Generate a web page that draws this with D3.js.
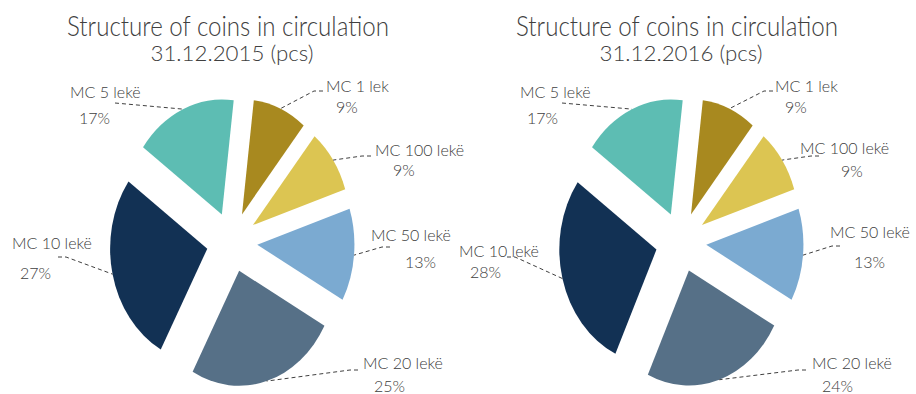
<!DOCTYPE html>
<html>
<head>
<meta charset="utf-8">
<script src="https://cdn.jsdelivr.net/npm/d3@7"></script>
<style>
  html, body { margin: 0; padding: 0; background: #fff; }
  svg { display: block; }
  text { font-family: Lato, "Open Sans", sans-serif; font-weight: 300; fill: #404040; }
</style>
</head>
<body>
<svg id="chart" width="916" height="394"></svg>
<script>
// Coin denominations, in the order they are laid around the pie (clockwise)
const categories = ["MC 1 lek", "MC 100 lekë", "MC 50 lekë", "MC 20 lekë", "MC 10 lekë", "MC 5 lekë"];
// Share of pieces in circulation, %
const values2015 = [9, 9, 13, 25, 27, 17];
const values2016 = [9, 9, 13, 24, 28, 17];
const titleLine1 = "Structure of coins in circulation";
const subtitles = ["31.12.2015 (pcs)", "31.12.2016 (pcs)"];

const colors = ["#A8891F", "#DCC552", "#7BAAD1", "#567087", "#123154", "#5DBDB3"];

// Layout of each pie panel and its hand-placed labels
// name: [x, baseline], pct: [x, baseline], lead: leader start [x, y] (+ optional elbow)
const panels = [
  {
    values: values2015, subtitle: subtitles[0], cx: 232, cy: 242,
    labels: [
      { name: [326, 92], pct: [336, 113], lead: [[323, 91], [314, 91]] },
      { name: [375, 156], pct: [393, 176], lead: [[371, 156], [362, 156]] },
      { name: [371, 241], pct: [405, 268], lead: [[390, 247], [382, 247]] },
      { name: [363, 369], pct: [374, 392], lead: [[358, 370], [350, 370]] },
      { name: [12, 249], pct: [20, 279], lead: [[58, 257], [66, 257]] },
      { name: [70, 98], pct: [79, 124], lead: [[115, 103]] }
    ]
  },
  {
    values: values2016, subtitle: subtitles[1], cx: 681, cy: 242,
    labels: [
      { name: [775, 92], pct: [785, 113], lead: [[773, 91], [764, 91]] },
      { name: [800, 154], pct: [841, 177], lead: [[819, 156], [811, 156]] },
      { name: [830, 238], pct: [854, 268], lead: [[840, 246], [832, 246]] },
      { name: [812, 369], pct: [822, 392], lead: [[806, 370], [798, 370]] },
      { name: [459, 257], pct: [470, 278], lead: [[507, 257], [515, 257]] },
      { name: [520, 98], pct: [527, 124], lead: [[562, 103]] }
    ]
  }
];

const R = 115;          // pie radius (vertical)
const SX = 0.845;       // horizontal squeeze of the pie
const EXPLODE = 30;     // distance every slice is pulled out from the centre
const START = 7 * Math.PI / 180;

const svg = d3.select("#chart");
const pie = d3.pie().sort(null).startAngle(START).endAngle(START + 2 * Math.PI);
const arc = d3.arc().innerRadius(0).outerRadius(R);

panels.forEach(p => {
  const g = svg.append("g");

  // Titles
  g.append("text")
    .attr("x", p.cx - 4).attr("y", 36)
    .attr("text-anchor", "middle")
    .attr("textLength", 322)
    .attr("lengthAdjust", "spacingAndGlyphs")
    .style("font-size", "27px")
    .text(titleLine1);
  g.append("text")
    .attr("x", p.cx).attr("y", 61)
    .attr("text-anchor", "middle")
    .attr("textLength", 163)
    .attr("lengthAdjust", "spacingAndGlyphs")
    .style("font-size", "21px")
    .text(p.subtitle);

  const arcs = pie(p.values);

  // screen position of a point at angle a, radius r, in slice-local space
  const toScreen = (d, a, r) => {
    const mid = (d.startAngle + d.endAngle) / 2;
    const ox = EXPLODE * Math.sin(mid), oy = -EXPLODE * Math.cos(mid);
    return [p.cx + SX * (ox + r * Math.sin(a)), p.cy + oy - r * Math.cos(a)];
  };

  // Slices
  const pieG = g.append("g")
    .attr("transform", `translate(${p.cx},${p.cy}) scale(${SX},1)`);
  pieG.selectAll("path")
    .data(arcs)
    .join("path")
    .attr("transform", d => {
      const mid = (d.startAngle + d.endAngle) / 2;
      return `translate(${EXPLODE * Math.sin(mid)},${-EXPLODE * Math.cos(mid)})`;
    })
    .attr("d", arc)
    .attr("fill", (d, i) => colors[i]);

  // Leader lines: from label to the outer edge at the slice's mid-angle
  arcs.forEach((d, i) => {
    const lab = p.labels[i];
    const mid = (d.startAngle + d.endAngle) / 2;
    const end = toScreen(d, mid, R);
    const pts = lab.lead.concat([end]);
    g.append("path")
      .attr("d", d3.line()(pts))
      .attr("fill", "none")
      .attr("stroke", "#404040")
      .attr("stroke-width", 1)
      .attr("stroke-dasharray", "4,3");

    g.append("text")
      .attr("x", lab.name[0]).attr("y", lab.name[1])
      .style("font-size", "16px")
      .text(categories[i]);
    g.append("text")
      .attr("x", lab.pct[0]).attr("y", lab.pct[1])
      .style("font-size", "16px")
      .text(d.data + "%");
  });
});
</script>
</body>
</html>
